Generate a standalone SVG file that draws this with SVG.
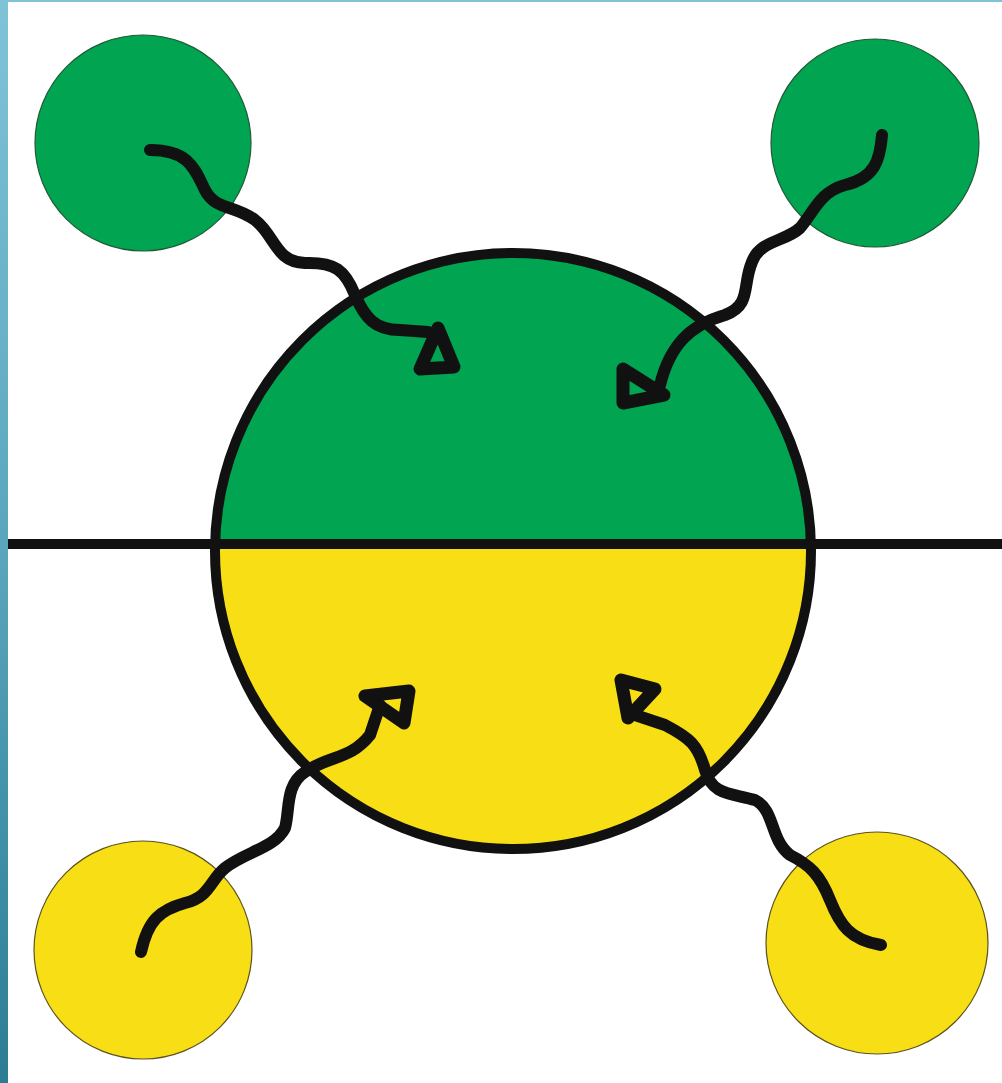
<svg xmlns="http://www.w3.org/2000/svg" width="1002" height="1083" viewBox="0 0 1002 1083">
<defs>
<linearGradient id="strip" x1="0" y1="0" x2="0" y2="1">
<stop offset="0" stop-color="#80c3d6"/>
<stop offset="0.5" stop-color="#5aa6bd"/>
<stop offset="1" stop-color="#2c7d94"/>
</linearGradient>
<clipPath id="top"><rect x="0" y="0" width="1002" height="544"/></clipPath>
<clipPath id="bot"><rect x="0" y="544" width="1002" height="539"/></clipPath>
</defs>
<style>
.g{fill:#00a451;stroke:#1f5b35;stroke-width:1.2}
.y{fill:#f8de14;stroke:#5c5220;stroke-width:1.2}
.w{fill:none;stroke:#111;stroke-width:12;stroke-linecap:round;stroke-linejoin:round}
.h{fill:none;stroke:#111;stroke-width:13;stroke-linejoin:round}
</style>
<rect width="1002" height="1083" fill="#fff"/>
<rect x="0" y="0" width="8" height="1083" fill="url(#strip)"/>
<rect x="0" y="0" width="1002" height="2" fill="#80c3d6"/>
<g id="node-tl"><circle class="g" cx="143" cy="143" r="108"/></g>
<g id="node-tr"><circle class="g" cx="875" cy="143" r="104"/></g>
<g id="node-bl"><circle class="y" cx="143" cy="950" r="109"/></g>
<g id="node-br"><circle class="y" cx="877" cy="943" r="111"/></g>
<g id="node-center">
<circle cx="513" cy="551" r="298" fill="#00a451" clip-path="url(#top)"/>
<circle cx="513" cy="551" r="298" fill="#f8de14" clip-path="url(#bot)"/>
<circle cx="513" cy="551" r="298" fill="none" stroke="#111" stroke-width="10"/>
</g>
<g id="divider"><line x1="8" y1="544" x2="1002" y2="544" stroke="#111" stroke-width="10"/></g>
<g id="connectors">
<path class="w" d="M150 150 C190 150 195 170 205 190 C215 210 235 205 255 220 C275 235 275 262 305 263 C335 262 345 270 355 295 C365 318 375 330 400 330 L428 332"/>
<path class="h" d="M438 328 L420 369 L454 367 Z"/>
<path class="w" d="M882 135 C880 160 875 178 845 185 C820 192 815 210 800 228 C785 242 760 240 752 262 C742 285 752 305 725 315 C690 325 670 345 660 385"/>
<path class="h" d="M623 369 L623 403 L664 395 Z"/>
<path class="w" d="M141 952 C148 920 160 910 185 903 C210 897 210 880 225 868 C245 852 275 848 285 828 C290 810 285 785 305 772 C330 755 350 760 370 735 L380 705"/>
<path class="h" d="M365 696 L409 691 L404 723 Z"/>
<path class="w" d="M881 945 C850 940 840 925 830 900 C820 875 810 865 790 855 C770 840 775 810 755 800 C730 793 712 795 705 770 C698 745 690 738 665 725 L635 715"/>
<path class="h" d="M621 680 L655 689 L628 718 Z"/>
</g>
</svg>
